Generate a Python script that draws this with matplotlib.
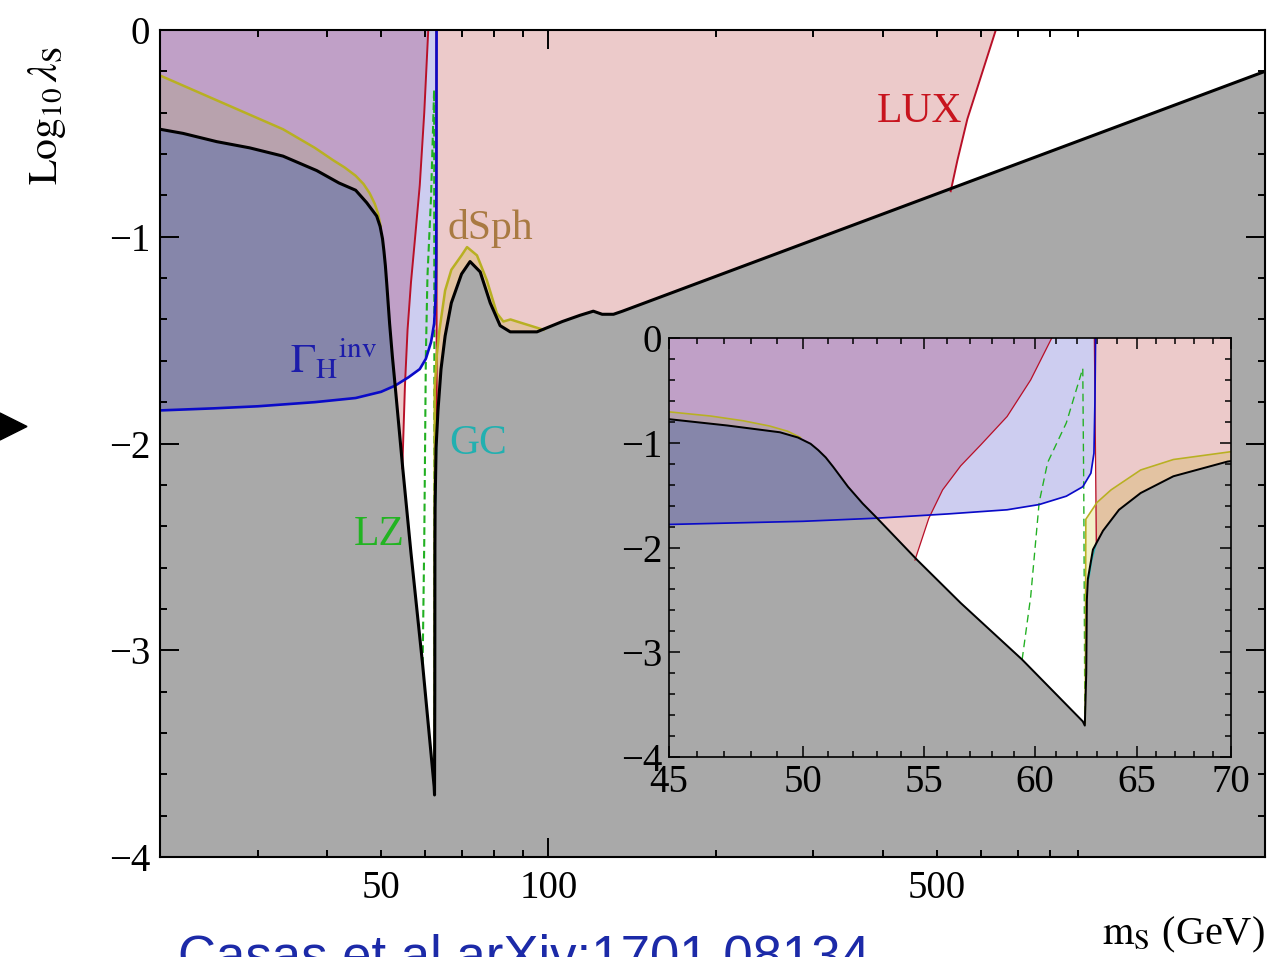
import numpy as np
import matplotlib
matplotlib.use('Agg')
import matplotlib.pyplot as plt
from matplotlib.ticker import FixedLocator, FuncFormatter, NullFormatter
from matplotlib.patches import Polygon

plt.rcParams['font.family'] = ['Liberation Serif', 'DejaVu Serif']
plt.rcParams['mathtext.fontset'] = 'stix'

# ---------------- data ----------------
black_x = [20, 22, 25.3, 29, 33.3, 38.3, 42, 45, 47.1, 49.1, 49.8, 50.3, 50.6, 50.9,
           51.2, 51.8, 52.4, 53.0, 54.7, 56.6, 59.4, 62.3, 62.4, 62.47, 62.5, 62.55,
           62.8, 63.3, 64.1, 65.2, 66.9, 69.8, 72.3, 75.4, 78.6, 81.9, 85.4, 95.4, 106,
           114, 120.5, 125, 131, 136, 1950]
black_y = [-0.48, -0.50, -0.54, -0.57, -0.61, -0.68, -0.74, -0.775, -0.835, -0.90, -0.95,
           -1.01, -1.07, -1.14, -1.23, -1.42, -1.58, -1.72, -2.12, -2.53, -3.07, -3.66,
           -3.70, -3.20, -2.50, -2.30, -2.02, -1.84, -1.64, -1.48, -1.32, -1.18, -1.12,
           -1.17, -1.32, -1.43, -1.46, -1.46, -1.41, -1.38, -1.36, -1.375, -1.375,
           -1.36, -0.20]

blue_x = [20, 25, 30, 38, 45, 50, 53, 56, 58.7, 60.2, 61.5, 62.3, 62.7, 62.85, 62.9, 62.93]
blue_y = [-1.84, -1.83, -1.82, -1.80, -1.78, -1.75, -1.72, -1.68, -1.64, -1.59, -1.51,
          -1.42, -1.29, -1.10, -0.60, 0.0]

dsph_l_x = [20, 25.3, 33.3, 38, 41, 43, 45, 46.5, 47.7, 48.7, 49.4, 49.9]
dsph_l_y = [-0.22, -0.34, -0.48, -0.57, -0.63, -0.665, -0.705, -0.745, -0.79, -0.84,
            -0.89, -0.95]
dsph_r_x = [62.42, 62.45, 63.0, 63.7, 65.2, 66.9, 69.8, 71.4, 74.4, 77.5, 80.8, 83,
            85.5, 87.8, 92.8, 98]
dsph_r_y = [-3.68, -1.73, -1.57, -1.45, -1.26, -1.16, -1.09, -1.05, -1.09, -1.21,
            -1.37, -1.41, -1.40, -1.41, -1.43, -1.45]

lux_l_x = [54.6, 55.2, 55.8, 56.6, 57.5, 58.7, 59.8, 60.8]
lux_l_y = [-2.12, -1.72, -1.45, -1.22, -1.02, -0.75, -0.40, 0.0]
lux_v_x = [62.87, 62.97]
lux_v_y = [0.0, -1.96]
lux_h_x = [530, 545, 568, 639]
lux_h_y = [-0.78, -0.63, -0.43, 0.0]

lz_x = [59.4, 59.8, 60.2, 60.6, 61.5, 62.3, 62.35, 62.4]
lz_y = [-3.07, -2.47, -1.57, -1.19, -0.81, -0.29, -1.50, -3.60]

gc_x = [62.6, 62.75, 62.97]
gc_y = [-2.30, -2.12, -1.96]

main_major_x = [100]
main_minor_x = [30, 40, 50, 60, 70, 80, 90, 200, 300, 400, 500, 600, 700, 800, 900]
main_minor_labels = {50: '50', 500: '500'}
inset_major_x = [45, 50, 55, 60, 65, 70]
inset_minor_x = [46, 47, 48, 49, 51, 52, 53, 54, 56, 57, 58, 59, 61, 62, 63, 64,
                 66, 67, 68, 69]
y_major = [-4, -3, -2, -1, 0]
y_major_labels = ['\u22124', '\u22123', '\u22122', '\u22121', '0']

# ---------------- colours ----------------
GRAY = '#a9a9a9'
DARK = '#8686aa'
PINK = '#eccaca'
LAV = '#cdcdf0'
PURP = '#c0a0c7'
YPURP = '#b8a2ad'
TAN = '#e3c3a2'
PALEY = '#f3f0c8'
C_BLACK = 'black'
C_BLUE = '#0a0ac8'
C_RED = '#b81028'
C_YEL = '#b8b022'
C_GREEN = '#22b022'
C_CYAN = '#20b8b8'

# ---------------- derived curves on a dense grid ----------------
xg = np.unique(np.concatenate([np.geomspace(20, 1950, 8000),
                               np.linspace(61.5, 63.5, 4000),
                               black_x, blue_x, dsph_l_x, dsph_r_x, lux_l_x, lux_h_x]))


def ip(xc, yc, xs=xg):
    return np.interp(np.log10(xs), np.log10(xc), yc)


b = ip(black_x, black_y)
blue_mask = xg <= blue_x[-1]
u = np.where(blue_mask, ip(blue_x, blue_y), 0.0)

lux_edge = 0.5 * (lux_v_x[0] + lux_v_x[1])
L = np.full_like(xg, -4.0)
m1 = (xg >= lux_l_x[0]) & (xg <= lux_l_x[-1])
L[m1] = ip(lux_l_x, lux_l_y, xg[m1])
m2 = (xg >= lux_h_x[0]) & (xg <= lux_h_x[-1])
L[m2] = ip(lux_h_x, lux_h_y, xg[m2])
pink_mask = ~((xg > lux_l_x[-1]) & (xg < lux_edge)) & ~(xg > lux_h_x[-1])

d = b.copy()
mL = (xg >= dsph_l_x[0]) & (xg <= dsph_l_x[-1])
d[mL] = np.maximum(ip(dsph_l_x, dsph_l_y, xg[mL]), b[mL])
mR = (xg >= dsph_r_x[0]) & (xg <= dsph_r_x[-1])
d[mR] = np.maximum(ip(dsph_r_x, dsph_r_y, xg[mR]), b[mR])
yz = d > b + 1e-9


def draw(a, s, dash_on, dash_off):
    kw = dict(lw=0, edgecolor='none')
    a.fill_between(xg, np.maximum(b, L), 0, where=pink_mask, color=PINK, **kw)
    a.fill_between(xg, np.maximum(b, u), 0, where=blue_mask, color=LAV, **kw)
    a.fill_between(xg, np.maximum.reduce([b, u, L]), 0, where=pink_mask & blue_mask,
                   color=PURP, **kw)
    a.fill_between(xg, b, d, where=yz & (xg < 56), color=YPURP, **kw)
    a.fill_between(xg, b, d, where=yz & (xg >= 60) & (xg < lux_edge), color=PALEY, **kw)
    a.fill_between(xg, b, d, where=yz & (xg >= lux_edge), color=TAN, **kw)
    a.fill_between(xg, -4, b, color=GRAY, **kw)
    a.fill_between(xg, u, b, where=blue_mask & (u < b), color=DARK, **kw)

    glw = 1.5 * s
    a.plot(lz_x, lz_y, color=C_GREEN, lw=glw, ls=(0, (dash_on / glw, dash_off / glw)))
    a.plot(gc_x, gc_y, color=C_CYAN, lw=1.3 * s)
    a.plot(lux_l_x, lux_l_y, color=C_RED, lw=1.4 * s)
    a.plot(lux_v_x, lux_v_y, color=C_RED, lw=1.4 * s)
    a.plot(lux_h_x, lux_h_y, color=C_RED, lw=1.4 * s)
    a.plot(blue_x, blue_y, color=C_BLUE, lw=1.9 * s)
    a.plot(dsph_l_x, dsph_l_y, color=C_YEL, lw=1.8 * s)
    a.plot(dsph_r_x, dsph_r_y, color=C_YEL, lw=1.8 * s)
    a.plot(black_x, black_y, color=C_BLACK, lw=2.2 * s)


W, H = 1272, 957
fig = plt.figure(figsize=(W / 100, H / 100), dpi=100)


def fx(px):
    return px / W


def fy(py):
    return 1 - py / H


# ---------------- main axes ----------------
ax = fig.add_axes([fx(160), fy(857), fx(1265) - fx(160), fy(30) - fy(857)])
ax.set_xscale('log')
draw(ax, 1.0, 5.5, 3.0)
ax.set_xlim(20, 1950)
ax.set_ylim(-4, 0)
ax.xaxis.set_major_locator(FixedLocator(main_major_x))
ax.xaxis.set_major_formatter(FuncFormatter(lambda v, p: '%d' % round(v)))
ax.xaxis.set_minor_locator(FixedLocator(main_minor_x))
ax.xaxis.set_minor_formatter(FuncFormatter(lambda v, p: main_minor_labels.get(int(round(v)), '')))
ax.set_yticks(y_major)
ax.set_yticklabels(y_major_labels)
ax.yaxis.set_minor_locator(FixedLocator(np.arange(-4, 0.001, 0.2)))
ax.tick_params(which='both', direction='in', top=True, right=True, labelsize=28,
               width=1.4, colors='black')
ax.tick_params(which='major', length=13.5)
ax.tick_params(which='minor', length=5)
ax.tick_params(axis='x', which='both', pad=9)
ax.tick_params(axis='y', which='both', pad=7)
for sp in ax.spines.values():
    sp.set_linewidth(1.5)

# ---------------- inset ----------------
ins = fig.add_axes([fx(669), fy(757), fx(1231) - fx(669), fy(338) - fy(757)])
ins.set_xscale('log')
draw(ins, 0.65, 5.5, 3.5)
ins.set_xlim(45, 70)
ins.set_ylim(-4, 0)
ins.xaxis.set_major_locator(FixedLocator(inset_major_x))
ins.xaxis.set_major_formatter(FuncFormatter(lambda v, p: '%d' % round(v)))
ins.xaxis.set_minor_locator(FixedLocator(inset_minor_x))
ins.xaxis.set_minor_formatter(NullFormatter())
ins.set_yticks(y_major)
ins.set_yticklabels(y_major_labels)
ins.yaxis.set_minor_locator(FixedLocator(np.arange(-4, 0.001, 0.2)))
ins.tick_params(which='both', direction='in', top=True, right=True, labelsize=28,
                width=1.1)
ins.tick_params(which='major', length=8)
ins.tick_params(which='minor', length=4)
ins.tick_params(axis='x', which='both', pad=5)
ins.tick_params(axis='y', which='both', pad=5)
for sp in ins.spines.values():
    sp.set_linewidth(1.2)

# ---------------- labels & annotations ----------------
fig.text(fx(47), fy(115), r'$\mathrm{Log}_{10}\,\lambda_{\mathrm{S}}$', rotation=90,
         ha='center', va='center', fontsize=30)
fig.text(fx(1265), fy(935), r'$\mathrm{m_S}$ (GeV)', ha='right', va='center', fontsize=29)

fig.text(fx(920), fy(112), 'LUX', color='#c8141e', fontsize=30, ha='center', va='center')
fig.text(fx(490), fy(228), 'dSph', color='#a97a42', fontsize=30, ha='center', va='center')
fig.text(fx(478), fy(444), 'GC', color='#22b0b0', fontsize=30, ha='center', va='center')
fig.text(fx(379), fy(535), 'LZ', color='#22b422', fontsize=30, ha='center', va='center')
fig.text(fx(290), fy(373), r'$\Gamma_{\mathrm{H}}{}^{\mathrm{inv}}$', color='#1c1caa',
         fontsize=30, ha='left', va='baseline')

fig.text(fx(178), fy(973), 'Casas et al arXiv:1701.08134', color='#1c2aa8',
         fontsize=38, family=['Liberation Sans', 'DejaVu Sans'], ha='left', va='baseline')

fig.patches.append(Polygon([(fx(0), fy(413)), (fx(0), fy(440)), (fx(27), fy(426.5))],
                           closed=True, transform=fig.transFigure, color='black'))

fig.savefig('out.png', dpi=100)
